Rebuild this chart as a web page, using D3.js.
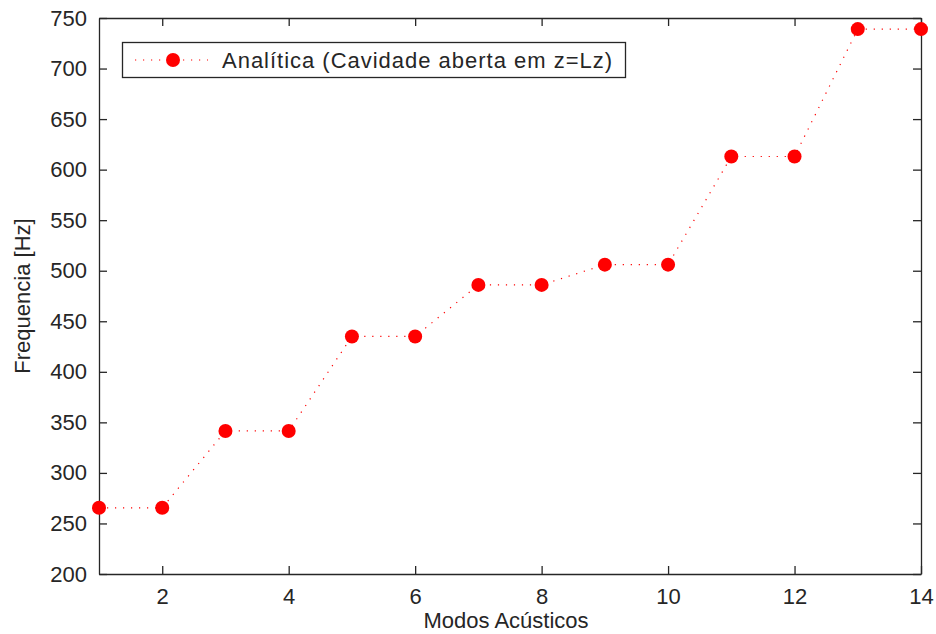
<html><head>
<script src="https://d3js.org/d3.v7.min.js"></script>
<style>
  body { margin: 0; background: #fff; }
  text { font-family: "Liberation Sans", Arial, sans-serif; fill: #262626; }
  .axis path, .axis line { stroke: #262626; stroke-width: 1.3px; }
  .axis text { font-size: 22px; }
</style>
</head>
<body>
<svg id="chart" width="936" height="634"></svg>
<script>
// data
const modes = [1, 2, 3, 4, 5, 6, 7, 8, 9, 10, 11, 12, 13, 14];
const freqs = [265.5, 265.5, 341.5, 341.5, 435, 435, 486, 486, 506, 506, 613, 613, 739, 739];
const xTicks = [2, 4, 6, 8, 10, 12, 14];
const yTicks = [200, 250, 300, 350, 400, 450, 500, 550, 600, 650, 700, 750];
const seriesName = "Analítica (Cavidade aberta em z=Lz)";

const svg = d3.select("#chart");
const plotL = 99, plotR = 921, plotT = 18, plotB = 574;

const x = d3.scaleLinear().domain([1, 14]).range([plotL, plotR]);
const y = d3.scaleLinear().domain([200, 750]).range([plotB, plotT]);

// axes, ticks pointing inward like matlab
svg.append("g").attr("class", "axis")
   .attr("transform", "translate(0," + plotB + ")")
   .call(d3.axisBottom(x).tickValues(xTicks).tickSize(-8).tickPadding(14).tickSizeOuter(0))
   .call(g => g.selectAll("text").attr("dy", "0.71em"));
svg.append("g").attr("class", "axis")
   .attr("transform", "translate(0," + plotT + ")")
   .call(d3.axisTop(x).tickValues(xTicks).tickSize(-8).tickFormat("").tickSizeOuter(0));
svg.append("g").attr("class", "axis")
   .attr("transform", "translate(" + plotL + ",0)")
   .call(d3.axisLeft(y).tickValues(yTicks).tickSize(-8).tickPadding(12).tickSizeOuter(0));
svg.append("g").attr("class", "axis")
   .attr("transform", "translate(" + plotR + ",0)")
   .call(d3.axisRight(y).tickValues(yTicks).tickSize(-8).tickFormat("").tickSizeOuter(0));

// axis titles
svg.append("text").attr("x", (plotL + plotR) / 2 - 4).attr("y", 628)
   .attr("text-anchor", "middle").style("font-size", "22px").text("Modos Acústicos");
svg.append("text").attr("transform", "translate(30," + ((plotT + plotB) / 2) + ") rotate(-90)")
   .attr("text-anchor", "middle").style("font-size", "22px").text("Frequencia [Hz]");

// series
const line = d3.line().x((d, i) => x(modes[i])).y(d => y(d));
svg.append("path").datum(freqs)
   .attr("d", line)
   .attr("fill", "none").attr("stroke", "#ff0000").attr("stroke-width", 1.2)
   .attr("stroke-dasharray", "1.2,6.8");
svg.selectAll("circle.pt").data(freqs).join("circle")
   .attr("class", "pt")
   .attr("cx", (d, i) => x(modes[i])).attr("cy", d => y(d))
   .attr("r", 7).attr("fill", "#ff0000");

// legend
const lg = svg.append("g");
lg.append("rect").attr("x", 122.5).attr("y", 42.5).attr("width", 503).attr("height", 35)
  .attr("fill", "#fff").attr("stroke", "#262626").attr("stroke-width", 1.3);
lg.append("line").attr("x1", 135).attr("x2", 208).attr("y1", 60).attr("y2", 60)
  .attr("stroke", "#ff0000").attr("stroke-width", 1.2).attr("stroke-dasharray", "1.2,6.8");
lg.append("circle").attr("cx", 173).attr("cy", 60).attr("r", 7).attr("fill", "#ff0000");
lg.append("text").attr("x", 222).attr("y", 60).attr("dy", "0.36em")
  .style("font-size", "22px").attr("textLength", 390).text(seriesName);
</script>
</body>
</html>
